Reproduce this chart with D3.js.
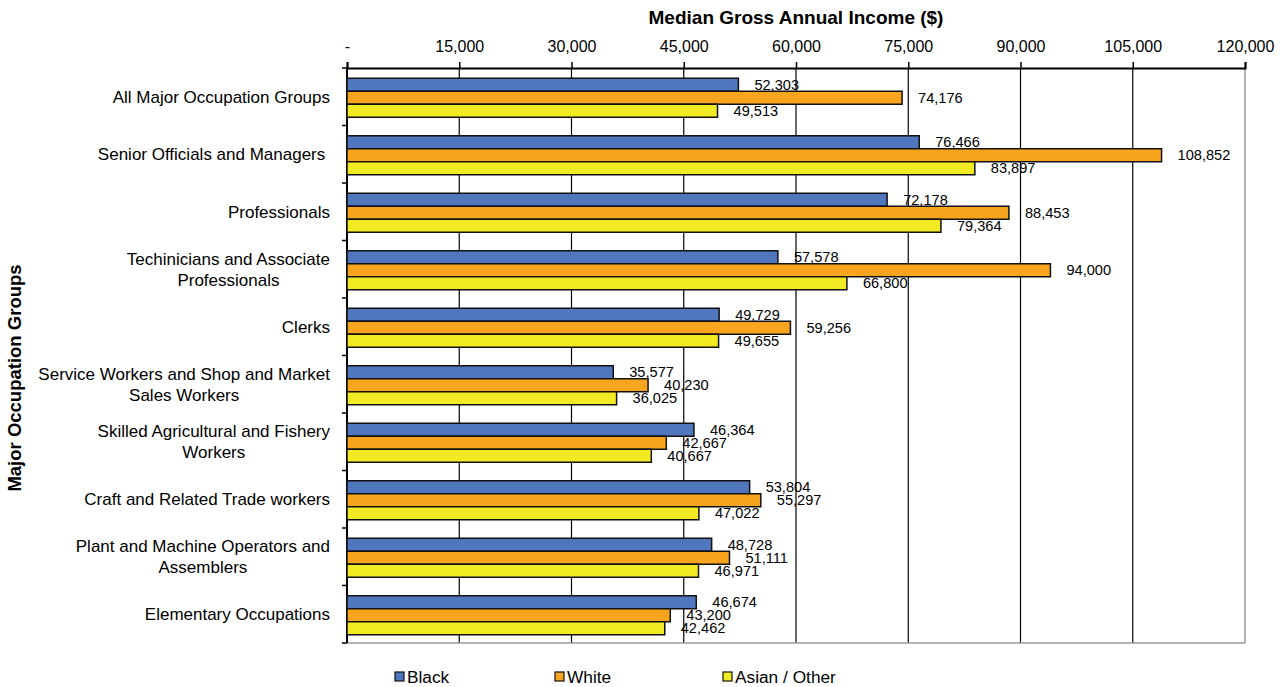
<!DOCTYPE html>
<html>
<head>
<meta charset="utf-8">
<script src="https://cdn.jsdelivr.net/npm/d3@7"></script>
<style>
  body { margin: 0; background: #fff; }
  svg text { font-family: "Liberation Sans", Arial, sans-serif; fill: #000; }
</style>
</head>
<body>
<div id="chart"></div>
<script>
// category labels, one array per wrapped line
const groups = [
  ["All Major Occupation Groups"],
  ["Senior Officials and Managers "],
  ["Professionals"],
  ["Techinicians and Associate", "Professionals"],
  ["Clerks"],
  ["Service Workers and Shop and Market", "Sales Workers"],
  ["Skilled Agricultural and Fishery", "Workers"],
  ["Craft and Related Trade workers"],
  ["Plant and Machine Operators and", "Assemblers"],
  ["Elementary Occupations"]
]
const seriesNames = ["Black", "White", "Asian / Other"]
const black = [52303, 76466, 72178, 57578, 49729, 35577, 46364, 53804, 48728, 46674]
const white = [74176, 108852, 88453, 94000, 59256, 40230, 42667, 55297, 51111, 43200]
const asian = [49513, 83897, 79364, 66800, 49655, 36025, 40667, 47022, 46971, 42462]
const xTicks = [0, 15000, 30000, 45000, 60000, 75000, 90000, 105000, 120000]

const colors = ["#5077BD", "#F7A51E", "#F2EA22"]

const W = 1280, H = 687
const margin = {top: 68, right: 35, bottom: 44, left: 347}
const width = W - margin.left - margin.right,
    height = H - margin.top - margin.bottom

const svg = d3.select("#chart").append("svg")
    .attr("width", W).attr("height", H)

const g = svg.append("g")
    .attr("transform", `translate(${margin.left},${margin.top})`)

const x = d3.scaleLinear().domain([0, 120000]).range([0, width])
const y = d3.scaleBand().domain(d3.range(groups.length)).range([0, height])
const inner = d3.scaleBand().domain([0, 1, 2]).range([0, 39])

// gridlines
g.selectAll(".grid").data(xTicks.slice(1, -1)).join("line")
    .attr("x1", d => x(d)).attr("x2", d => x(d))
    .attr("y1", 0).attr("y2", height)
    .attr("stroke", "#000").attr("stroke-width", 1.2)

// right + bottom frame
g.append("line").attr("x1", width).attr("x2", width).attr("y1", 0).attr("y2", height)
    .attr("stroke", "#999").attr("stroke-width", 1.5)
g.append("line").attr("x1", 0).attr("x2", width).attr("y1", height).attr("y2", height)
    .attr("stroke", "#999").attr("stroke-width", 1.5)

// top axis
const xAxis = g.append("g")
    .call(d3.axisTop(x).tickValues(xTicks).tickSize(6).tickPadding(10)
        .tickFormat(d => d === 0 ? "-" : d3.format(",")(d)))
xAxis.select(".domain").attr("stroke-width", 2)
xAxis.selectAll(".tick line").attr("stroke-width", 1.5)
xAxis.selectAll("text").style("font-size", "16px")
    .style("font-family", '"Liberation Sans", Arial, sans-serif')

// left axis: ticks on band boundaries
g.append("line").attr("x1", 0).attr("x2", 0).attr("y1", 0).attr("y2", height)
    .attr("stroke", "#000").attr("stroke-width", 2)
g.selectAll(".ltick").data(d3.range(groups.length + 1)).join("line")
    .attr("x1", -5).attr("x2", 0)
    .attr("y1", d => d * y.step()).attr("y2", d => d * y.step())
    .attr("stroke", "#000").attr("stroke-width", 1.5)

// category labels: block right aligned, lines centred in the block
const lab = g.selectAll(".cat").data(groups).join("text")
    .attr("class", "cat")
    .attr("text-anchor", "middle")
    .style("font-size", "17px")
    .style("white-space", "pre")
lab.selectAll("tspan").data(d => d).join("tspan")
    .attr("x", 0)
    .attr("y", (t, j, n) => (j - (n.length - 1) / 2) * 21)
    .attr("dy", "0.35em")
    .text(t => t)
lab.each(function (d, i) {
    let w = 0
    d3.select(this).selectAll("tspan").each(function () {
        w = Math.max(w, this.getComputedTextLength())
    })
    d3.select(this).attr("transform", `translate(${-17 - w / 2}, ${y(i) + y.bandwidth() / 2})`)
})

// bars
const series = [black, white, asian]
const cells = []
series.forEach((s, k) => s.forEach((v, i) => cells.push({i, k, v})))

const bandTop = i => y(i) + (y.bandwidth() - 39) / 2 + 1

g.selectAll(".bar").data(cells).join("rect")
    .attr("x", 0)
    .attr("y", d => bandTop(d.i) + inner(d.k))
    .attr("width", d => x(d.v))
    .attr("height", inner.bandwidth())
    .attr("fill", d => colors[d.k])
    .attr("stroke", "#111").attr("stroke-width", 1.5)

g.selectAll(".val").data(cells).join("text")
    .attr("x", d => x(d.v) + 16)
    .attr("y", d => bandTop(d.i) + inner(d.k) + inner.bandwidth() / 2)
    .attr("dy", "0.35em")
    .style("font-size", "14.6px")
    .text(d => d3.format(",")(d.v))

// titles
svg.append("text")
    .attr("x", margin.left + width / 2).attr("y", 24)
    .attr("text-anchor", "middle")
    .style("font-size", "19px").style("font-weight", "bold")
    .text("Median Gross Annual Income ($)")

svg.append("text")
    .attr("transform", `translate(21, 378) rotate(-90)`)
    .attr("text-anchor", "middle")
    .style("font-size", "18.5px").style("font-weight", "bold")
    .text("Major Occupation Groups")

// legend
const legX = [395, 555, 723]
const leg = svg.selectAll(".leg").data(seriesNames).join("g")
    .attr("transform", (d, i) => `translate(${legX[i]}, 672)`)
leg.append("rect").attr("width", 9).attr("height", 9)
    .attr("fill", (d, i) => colors[i]).attr("stroke", "#111").attr("stroke-width", 1.2)
leg.append("text").attr("x", 12).attr("y", 5).attr("dy", "0.35em")
    .style("font-size", "17.3px").text(d => d)
</script>
</body>
</html>
